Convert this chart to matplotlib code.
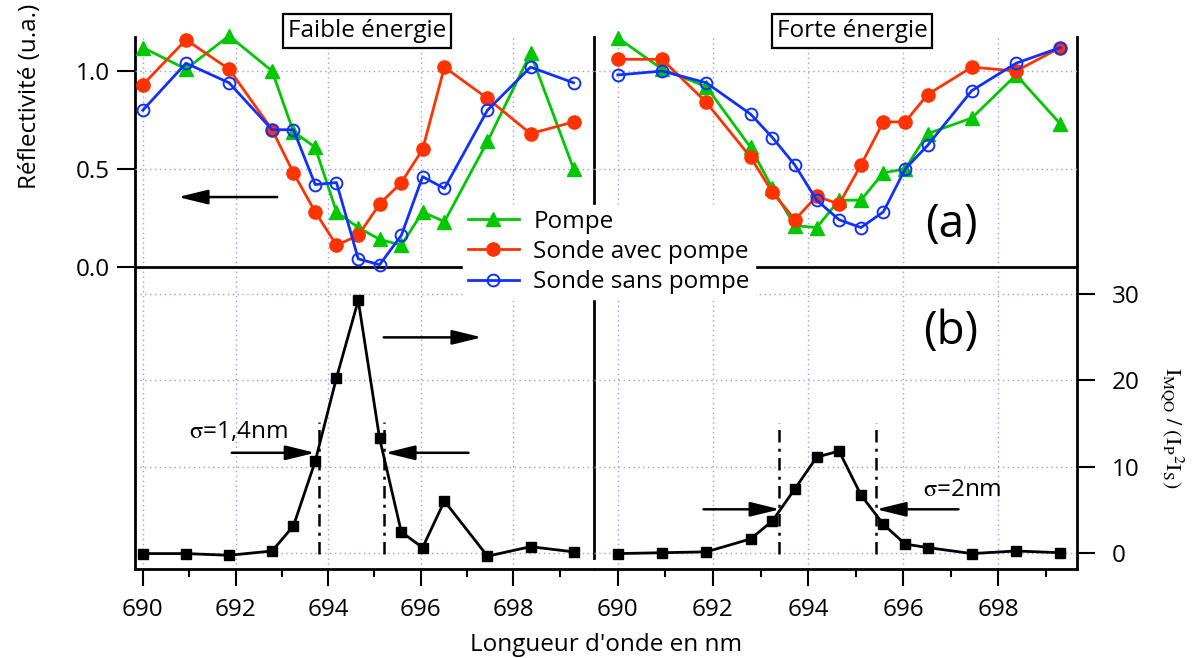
import matplotlib.pyplot as plt
from matplotlib.ticker import MultipleLocator

plt.rcParams['font.family'] = ['Open Sans', 'DejaVu Sans']
plt.rcParams['mathtext.fontset'] = 'stix'

# wavelengths (nm), same sampling in both panels
wavelength = [690.0, 690.93, 691.86, 692.79, 693.25, 693.72, 694.18, 694.65,
              695.11, 695.58, 696.04, 696.51, 697.44, 698.37, 699.3]

# reflectivity, low energy
pompe_faible = [1.12, 1.01, 1.18, 1.00, 0.69, 0.61, 0.28, 0.20, 0.14, 0.11, 0.28, 0.23, 0.64, 1.09, 0.50]
avec_faible = [0.93, 1.16, 1.01, 0.70, 0.48, 0.28, 0.11, 0.16, 0.32, 0.43, 0.60, 1.02, 0.86, 0.68, 0.74]
sans_faible = [0.80, 1.04, 0.94, 0.70, 0.70, 0.42, 0.43, 0.04, 0.01, 0.16, 0.46, 0.40, 0.80, 1.02, 0.94]

# reflectivity, high energy
pompe_forte = [1.17, 1.01, 0.92, 0.61, 0.40, 0.21, 0.20, 0.34, 0.34, 0.48, 0.50, 0.68, 0.76, 0.98, 0.73]
avec_forte = [1.06, 1.06, 0.84, 0.56, 0.38, 0.24, 0.36, 0.32, 0.52, 0.74, 0.74, 0.88, 1.02, 1.00, 1.12]
sans_forte = [0.98, 1.00, 0.94, 0.78, 0.66, 0.52, 0.34, 0.24, 0.20, 0.28, 0.50, 0.62, 0.90, 1.04, 1.12]

# I_MQO / (Ip^2 Is)
mqo_faible = [-0.1, -0.1, -0.3, 0.2, 3.1, 10.6, 20.3, 29.3, 13.3, 2.4, 0.6, 6.0, -0.4, 0.7, 0.1]
mqo_forte = [-0.1, 0.0, 0.1, 1.6, 3.7, 7.4, 11.1, 11.8, 6.7, 3.3, 1.0, 0.6, -0.1, 0.2, 0.0]

series_names = ['Pompe', 'Sonde avec pompe', 'Sonde sans pompe']
refl_ticks = [0.0, 0.5, 1.0]
mqo_ticks = [0, 10, 20, 30]

W, H = 1202, 658
FS = 17.5
LW = 2.0
green, red, blue = '#00c800', '#ff3300', '#1030ff'
gridkw = dict(color='#9a9aff', linestyle=(0, (1, 2.5)), linewidth=1)


def rect(x0, x1, y0, y1):
    return [x0 / W, 1 - y1 / H, (x1 - x0) / W, (y1 - y0) / H]


fig = plt.figure(figsize=(W / 100, H / 100), dpi=100)

columns = [
    dict(rect=rect(135, 594, 37, 569), xlim=(689.83, 699.74), refl=(pompe_faible, avec_faible, sans_faible),
         mqo=mqo_faible, left=True),
    dict(rect=rect(594, 1077, 37, 569), xlim=(689.50, 699.65), refl=(pompe_forte, avec_forte, sans_forte),
         mqo=mqo_forte, left=False),
]

axes_b, axes_t = [], []
for col in columns:
    axb = fig.add_axes(col['rect'])
    axt = fig.add_axes(col['rect'])
    for ax in (axb, axt):
        ax.patch.set_visible(False)
        ax.set_xlim(*col['xlim'])
        for s in ax.spines.values():
            s.set_visible(False)
    axb.set_ylim(-1.89, 59.87)
    axt.set_ylim(-1.545, 1.174)

    axb.spines['bottom'].set_visible(True)
    axb.spines['bottom'].set_linewidth(LW)
    side = 'left' if col['left'] else 'right'
    axb.spines[side].set_visible(True)
    axb.spines[side].set_linewidth(LW)

    # x axis
    axb.xaxis.set_major_locator(MultipleLocator(2))
    axb.xaxis.set_minor_locator(MultipleLocator(1))
    axb.tick_params(axis='x', which='major', direction='out', length=12, width=1.5, pad=9, labelsize=FS)
    axb.tick_params(axis='x', which='minor', direction='out', length=6, width=1.5)
    axb.grid(axis='x', which='major', **gridkw)
    axt.tick_params(axis='x', which='both', bottom=False, labelbottom=False)

    # bottom-scale y
    axb.set_yticks(mqo_ticks)
    axb.grid(axis='y', **gridkw)
    if col['left']:
        axb.tick_params(axis='y', left=False, labelleft=False)
    else:
        axb.yaxis.tick_right()
        axb.tick_params(axis='y', direction='out', length=13, width=1.5, pad=12, labelsize=FS)

    # top-scale y
    axt.set_yticks(refl_ticks)
    axt.grid(axis='y', **gridkw)
    if col['left']:
        axt.set_yticklabels(['0.0', '0.5', '1.0'])
        axt.tick_params(axis='y', direction='out', length=13, width=1.5, pad=5, labelsize=FS)
    else:
        axt.tick_params(axis='y', left=False, labelleft=False)
    axt.axhline(0, color='k', lw=LW, zorder=2)

    p, a, s = col['refl']
    axt.plot(wavelength, p, '-^', color=green, lw=2, ms=10.5, clip_on=False, zorder=3, label=series_names[0])
    axt.plot(wavelength, a, '-o', color=red, lw=2, ms=9.5, clip_on=False, zorder=3, label=series_names[1])
    axt.plot(wavelength, s, '-o', color=blue, lw=2, ms=8.5, mfc='none', mew=1.4, clip_on=False, zorder=3,
             label=series_names[2])
    axb.plot(wavelength, col['mqo'], '-s', color='k', lw=2, ms=7.5, clip_on=False, zorder=3)
    axes_b.append(axb)
    axes_t.append(axt)

axbl, axbr = axes_b
axtl, axtr = axes_t

# separator between the two columns
axbl.plot([1, 1], [0.02, 1], color='k', lw=LW, transform=axbl.transAxes, clip_on=False)

arrow = dict(arrowstyle='-|>,head_length=0.9,head_width=0.22', mutation_scale=20,
             color='k', lw=1.8, shrinkA=0, shrinkB=0)
dashdot = (0, (5, 2.5, 1.2, 2.5))

# arrows telling which axis is which
axtl.annotate('', xy=(690.76, 0.356), xytext=(692.90, 0.356), arrowprops=arrow)
axbl.annotate('', xy=(697.32, 25.0), xytext=(695.20, 25.0), arrowprops=arrow)

# widths, low energy
axbl.plot([693.81, 693.81], [-0.1, 15.2], color='k', lw=1.8, linestyle=dashdot)
axbl.plot([695.21, 695.21], [-0.1, 15.2], color='k', lw=1.8, linestyle=dashdot)
axbl.annotate('', xy=(693.72, 11.6), xytext=(691.92, 11.6), arrowprops=arrow)
axbl.annotate('', xy=(695.23, 11.6), xytext=(697.03, 11.6), arrowprops=arrow)
axbl.text(692.06, 14.0, r'$\mathrm{\sigma}$=1,4nm', fontsize=FS, ha='center', va='center')

# widths, high energy
axbr.plot([693.39, 693.39], [-0.1, 15.1], color='k', lw=1.8, linestyle=dashdot)
axbr.plot([695.42, 695.42], [-0.1, 15.1], color='k', lw=1.8, linestyle=dashdot)
axbr.annotate('', xy=(693.41, 5.04), xytext=(691.80, 5.04), arrowprops=arrow)
axbr.annotate('', xy=(695.43, 5.04), xytext=(697.16, 5.04), arrowprops=arrow)
axbr.text(697.23, 7.28, r'$\mathrm{\sigma}$=2nm', fontsize=FS, ha='center', va='center')

# panel tags
fig.text(951 / W, 1 - 225 / H, '(a)', fontsize=33, ha='center', va='center')
fig.text(951 / W, 1 - 332 / H, '(b)', fontsize=33, ha='center', va='center')

# boxed titles
box = dict(boxstyle='square,pad=0.2', fc='white', ec='black', lw=1.6)
fig.text(367 / W, 1 - 31 / H, 'Faible énergie', fontsize=FS, ha='center', va='center', bbox=box)
fig.text(852 / W, 1 - 31 / H, 'Forte énergie', fontsize=FS, ha='center', va='center', bbox=box)

# axis labels
fig.text(30 / W, 1 - 96 / H, 'Réflectivité (u.a.)', fontsize=FS, rotation=90, ha='center', va='center')
fig.text(606 / W, 1 - 645 / H, "Longueur d'onde en nm", fontsize=FS, ha='center', va='center')
fig.text(1172 / W, 1 - 428 / H, r'$\mathrm{I_{MQO}\ /\ (I_P{}^{2}I_S)}$', fontsize=16,
         rotation=270, ha='center', va='center')

handles, labels = axtl.get_legend_handles_labels()
fig.legend(handles, labels, loc='upper left', bbox_to_anchor=(463 / W, 1 - 205 / H),
           fontsize=FS, frameon=True, facecolor='white', edgecolor='white', framealpha=1,
           fancybox=False, handlelength=2.1, handletextpad=0.6, labelspacing=0.25,
           borderpad=0.2, borderaxespad=0)

fig.savefig('out.png', dpi=100)
